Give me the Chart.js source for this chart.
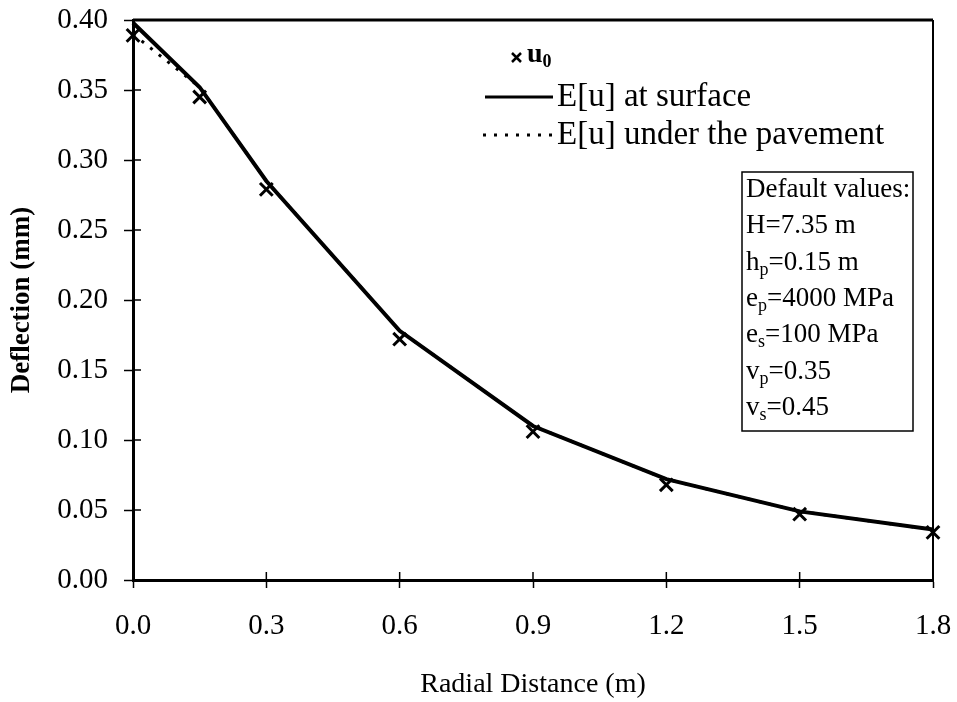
<!DOCTYPE html>
<html>
<head>
<meta charset="utf-8">
<script src="https://cdn.jsdelivr.net/npm/chart.js@4/dist/chart.umd.min.js"></script>
<style>
  html, body { margin: 0; padding: 0; background: #fff; }
  #wrap { width: 957px; height: 702px; }
</style>
</head>
<body>
<div id="wrap"><canvas id="chart" width="957" height="702"></canvas></div>
<script>
// Données
const distances = [0, 0.15, 0.3, 0.6, 0.9, 1.2, 1.5, 1.8];
const u0 = [0.389, 0.345, 0.279, 0.172, 0.106, 0.068, 0.047, 0.034];
const surface = [0.398, 0.352, 0.285, 0.178, 0.110, 0.072, 0.049, 0.036];
const underPavement = [0.390, 0.352, 0.285, 0.178, 0.110, 0.072, 0.049, 0.036];

const xTicks = [0, 0.3, 0.6, 0.9, 1.2, 1.5, 1.8];
const defaults = [
    [['Default values:', 0]],
    [['H=7.35 m', 0]],
    [['h', 0], ['p', 1], ['=0.15 m', 0]],
    [['e', 0], ['p', 1], ['=4000 MPa', 0]],
    [['e', 0], ['s', 1], ['=100 MPa', 0]],
    [['v', 0], ['p', 1], ['=0.35', 0]],
    [['v', 0], ['s', 1], ['=0.45', 0]]
];

const SERIF = '"Liberation Serif", "Times New Roman", serif';
const pts = arr => distances.map((d, i) => ({ x: d, y: arr[i] }));

// texte avec indices
function drawRich(ctx, parts, x, y, size, weight) {
    parts.forEach(([t, sub]) => {
        ctx.font = (weight || '') + ' ' + (sub ? Math.round(size * 0.65) : size) + 'px ' + SERIF;
        ctx.fillText(t, x, sub ? y + size * 0.28 : y);
        x += ctx.measureText(t).width;
    });
}

const frame = {
    id: 'frame',
    afterDraw(chart) {
        const { ctx, chartArea: a, scales } = chart;
        ctx.save();
        ctx.strokeStyle = '#000';
        ctx.fillStyle = '#000';

        // bordure haut et droite
        ctx.lineWidth = 3;
        ctx.beginPath();
        ctx.moveTo(a.left, a.top);
        ctx.lineTo(a.right, a.top);
        ctx.stroke();
        ctx.lineWidth = 2;
        ctx.beginPath();
        ctx.moveTo(a.right, a.top);
        ctx.lineTo(a.right, a.bottom);
        ctx.stroke();

        // graduations vers l'intérieur
        ctx.lineWidth = 1.5;
        ctx.beginPath();
        scales.x.ticks.forEach(t => {
            const px = scales.x.getPixelForValue(t.value);
            ctx.moveTo(px, a.bottom);
            ctx.lineTo(px, a.bottom - 8);
        });
        scales.y.ticks.forEach(t => {
            const py = scales.y.getPixelForValue(t.value);
            ctx.moveTo(a.left, py);
            ctx.lineTo(a.left + 8, py);
        });
        ctx.stroke();

        // légende
        ctx.textBaseline = 'middle';
        ctx.textAlign = 'left';
        ctx.lineWidth = 2.5;
        ctx.beginPath();
        ctx.moveTo(512, 53); ctx.lineTo(521, 62);
        ctx.moveTo(521, 53); ctx.lineTo(512, 62);
        ctx.stroke();
        drawRich(ctx, [['u', 0], ['0', 1]], 527, 55, 28, 'bold');

        ctx.lineWidth = 3;
        ctx.beginPath();
        ctx.moveTo(485, 97); ctx.lineTo(553, 97);
        ctx.stroke();
        ctx.font = '33px ' + SERIF;
        ctx.fillText('E[u] at surface', 557, 97);

        ctx.setLineDash([3, 8]);
        ctx.beginPath();
        ctx.moveTo(483, 135); ctx.lineTo(553, 135);
        ctx.stroke();
        ctx.setLineDash([]);
        ctx.fillText('E[u] under the pavement', 557, 135);

        // encadré des valeurs par défaut
        ctx.lineWidth = 1.5;
        ctx.strokeRect(742, 172, 171, 259);
        defaults.forEach((row, i) => drawRich(ctx, row, 746, 190 + i * 36.3, 27));
        ctx.restore();
    }
};

new Chart(document.getElementById('chart'), {
    type: 'scatter',
    data: {
        datasets: [
            {
                label: 'u0',
                data: pts(u0),
                showLine: false,
                pointStyle: 'crossRot',
                pointRadius: 9,
                pointBorderWidth: 3,
                borderColor: '#000',
                backgroundColor: '#000'
            },
            {
                label: 'E[u] at surface',
                data: pts(surface),
                showLine: true,
                borderColor: '#000',
                borderWidth: 4,
                pointRadius: 0,
                tension: 0
            },
            {
                label: 'E[u] under the pavement',
                data: pts(underPavement),
                showLine: true,
                borderColor: '#000',
                borderWidth: 3,
                borderDash: [3, 8],
                pointRadius: 0,
                tension: 0
            }
        ]
    },
    options: {
        responsive: false,
        animation: false,
        clip: false,
        layout: { padding: { top: 20, right: 24, left: 0, bottom: 0 } },
        plugins: { legend: { display: false }, tooltip: { enabled: false } },
        scales: {
            x: {
                type: 'linear',
                min: 0,
                max: 1.8,
                afterBuildTicks: s => { s.ticks = xTicks.map(v => ({ value: v })); },
                afterFit: s => { s.height = 122; s.paddingLeft = 0; s.paddingRight = 0; },
                grid: { drawOnChartArea: false, tickLength: 8, color: '#000', tickWidth: 1.5 },
                border: { color: '#000', width: 3 },
                ticks: {
                    color: '#000',
                    padding: 21,
                    maxRotation: 0,
                    font: { family: SERIF, size: 29 },
                    callback: v => v.toFixed(1)
                },
                title: {
                    display: true,
                    text: 'Radial Distance (m)',
                    color: '#000',
                    font: { family: SERIF, size: 28 },
                    padding: { top: 0, bottom: 1 }
                }
            },
            y: {
                min: 0,
                max: 0.4,
                afterFit: s => { s.width = 133; s.paddingTop = 0; s.paddingBottom = 0; },
                grid: { drawOnChartArea: false, tickLength: 9, color: '#000', tickWidth: 1.5 },
                border: { color: '#000', width: 3 },
                ticks: {
                    stepSize: 0.05,
                    color: '#000',
                    padding: 16,
                    font: { family: SERIF, size: 29 },
                    callback: v => v.toFixed(2)
                },
                title: {
                    display: true,
                    text: 'Deflection (mm)',
                    color: '#000',
                    font: { family: SERIF, size: 27, weight: 'bold' },
                    padding: { top: 6, bottom: 0 }
                }
            }
        }
    },
    plugins: [frame]
});
</script>
</body>
</html>
